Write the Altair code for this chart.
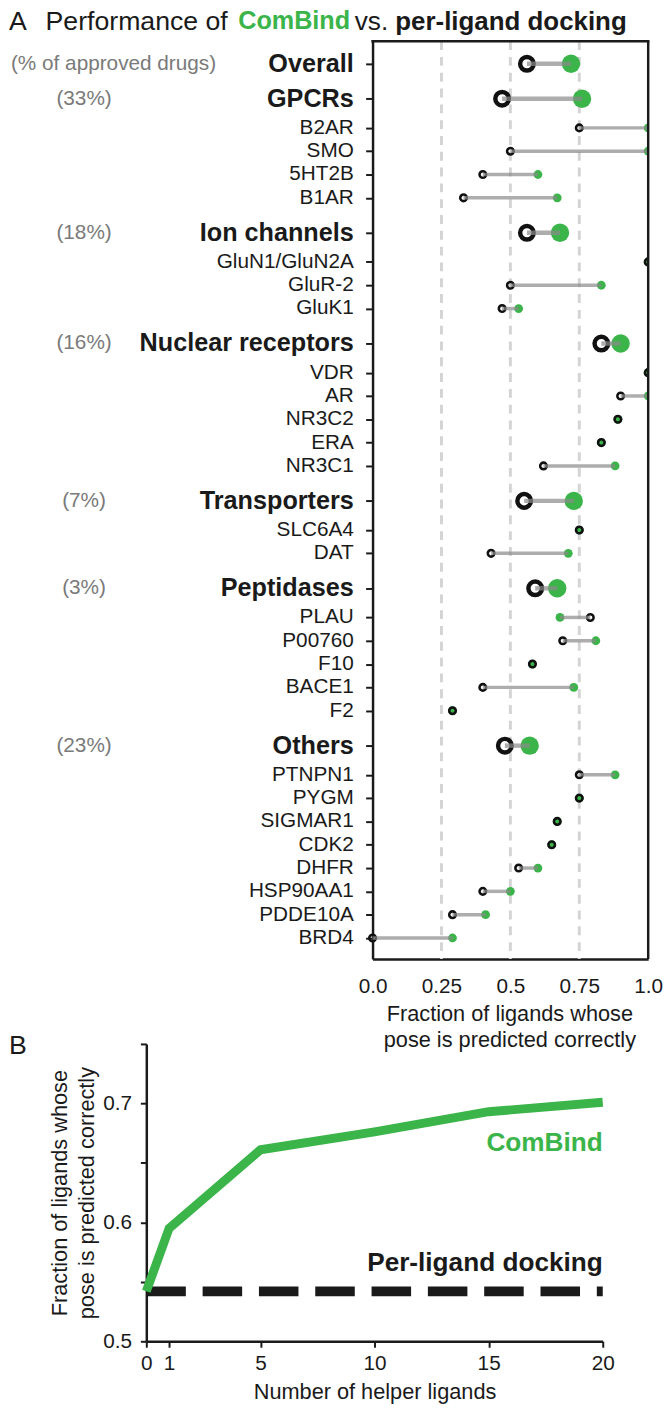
import altair as alt
import pandas as pd

FONT = "Liberation Sans"
GREEN = "#3bb44a"
BLACK = "#1a1a1a"
GRAYTXT = "#7a7a7a"

# ---------------- Panel A data ----------------
groups = ["Overall", "GPCRs", "Ion channels", "Nuclear receptors", "Transporters", "Peptidases", "Others"]
group_share = ["(% of approved drugs)", "(33%)", "(18%)", "(16%)", "(7%)", "(3%)", "(23%)"]
group_dock = [0.56, 0.47, 0.56, 0.83, 0.55, 0.59, 0.48]
group_combind = [0.72, 0.76, 0.68, 0.90, 0.73, 0.67, 0.57]

targets = ["B2AR", "SMO", "5HT2B", "B1AR",
           "GluN1/GluN2A", "GluR-2", "GluK1",
           "VDR", "AR", "NR3C2", "ERA", "NR3C1",
           "SLC6A4", "DAT",
           "PLAU", "P00760", "F10", "BACE1", "F2",
           "PTNPN1", "PYGM", "SIGMAR1", "CDK2", "DHFR", "HSP90AA1", "PDDE10A", "BRD4"]
target_group = ["GPCRs"] * 4 + ["Ion channels"] * 3 + ["Nuclear receptors"] * 5 + \
               ["Transporters"] * 2 + ["Peptidases"] * 5 + ["Others"] * 8
target_dock = [0.75, 0.50, 0.40, 0.33,
               1.00, 0.50, 0.47,
               1.00, 0.90, 0.89, 0.83, 0.62,
               0.75, 0.43,
               0.79, 0.69, 0.58, 0.40, 0.29,
               0.75, 0.75, 0.67, 0.65, 0.53, 0.40, 0.29, 0.00]
target_combind = [1.00, 1.00, 0.60, 0.67,
                  1.00, 0.83, 0.53,
                  1.00, 1.00, 0.89, 0.83, 0.88,
                  0.75, 0.71,
                  0.68, 0.81, 0.58, 0.73, 0.29,
                  0.88, 0.75, 0.67, 0.65, 0.60, 0.50, 0.41, 0.29]

grid_vals = [0.25, 0.5, 0.75]
x_ticks_a = [0, 0.25, 0.5, 0.75, 1]
x_title_a = ["Fraction of ligands whose", "pose is predicted correctly"]

# ---------------- Panel B data ----------------
helpers = [0, 1, 5, 10, 15, 20]
combind_curve = [0.542, 0.595, 0.661, 0.676, 0.693, 0.701]
docking_baseline = 0.542
y_ticks_b = [0.5, 0.55, 0.6, 0.65, 0.7, 0.75]

# build row table (row order with extra gap before each group heading)
rows = []
pos = 0.0
for gi, g in enumerate(groups):
    if gi > 0:
        pos += 1.5
    rows.append(dict(name=g, share=group_share[gi], dock=group_dock[gi],
                     combind=group_combind[gi], head=True, first=(gi == 0), pos=pos))
    first = True
    for t, tg, d, c in zip(targets, target_group, target_dock, target_combind):
        if tg != g:
            continue
        pos += 1.25 if first else 1.0
        first = False
        rows.append(dict(name=t, share="", dock=d, combind=c, head=False, first=False, pos=pos))
df = pd.DataFrame(rows)

# ---------------- Panel A ----------------
W_A, H_A = 647, 929
PLOT_A0 = 368  # left edge of the dot-plot box inside the panel
Y_DOM = [-0.97, 38.4]
xs_a = alt.Scale(domain=[0, 1], range=[PLOT_A0, W_A], zero=False, nice=False)
ys_a = alt.Scale(domain=Y_DOM, reverse=True, zero=False, nice=False)

xaxis_a = alt.Axis(values=x_ticks_a,
                   labelExpr="datum.value == 0 ? '0.0' : datum.value == 1 ? '1.0' : format(datum.value, '.2~f')",
                   ticks=False, grid=False, domainColor=BLACK, domainWidth=2.5,
                   labelFontSize=21, labelPadding=17, labelFlush=False, labelColor=BLACK,
                   title=None)
yaxis_a = alt.Axis(values=list(df["pos"]), labels=False, ticks=True, tickSize=7, tickWidth=2,
                   tickColor=BLACK, domainColor=BLACK, domainWidth=2.5, grid=False, title=None,
                   offset=-PLOT_A0)


def X(f):
    return alt.X(f, type="quantitative", scale=xs_a, axis=xaxis_a)


def Y(f="pos"):
    return alt.Y(f, type="quantitative", scale=ys_a, axis=yaxis_a)


gridA = alt.Chart(pd.DataFrame({"g": grid_vals})).mark_rule(
    strokeDash=[9, 7], color="#d4d4d4", strokeWidth=3).encode(x=X("g"))

frame_right = alt.Chart(pd.DataFrame({"v": [1]})).mark_rule(
    color=BLACK, strokeWidth=2.5).encode(x=X("v"))
frame_top = alt.Chart(pd.DataFrame({"a": [0], "b": [1], "y": [Y_DOM[0]]})).mark_rule(
    color=BLACK, strokeWidth=2.5, strokeCap="square").encode(x=X("a"), x2="b:Q", y=Y("y"))

green = alt.Chart(df).mark_circle(color=GREEN, opacity=1, clip=True).encode(
    x=X("combind"), y=Y(),
    size=alt.condition("datum.head", alt.value(346), alt.value(79)))

rings = alt.Chart(df).mark_point(shape="circle", filled=False, color="#111111", opacity=1, clip=True).encode(
    x=X("dock"), y=Y(),
    size=alt.condition("datum.head", alt.value(189), alt.value(44)),
    strokeWidth=alt.condition("datum.head", alt.value(4.5), alt.value(2.6)))

links = alt.Chart(df).mark_rule(color="#8a8a8a", opacity=0.7).encode(
    x=X("dock"), x2="combind:Q", y=Y(),
    strokeWidth=alt.condition("datum.head", alt.value(4.5), alt.value(3.5)))

LABEL_X = PLOT_A0 - 19
sub_labels = alt.Chart(df).transform_filter("!datum.head").mark_text(
    align="right", baseline="middle", font=FONT, fontSize=21, color=BLACK).encode(
    x=alt.value(LABEL_X), y=Y(), text="name:N")

head_labels = alt.Chart(df).transform_filter("datum.head").mark_text(
    align="right", baseline="middle", font=FONT, fontSize=25.5, fontWeight="bold", color=BLACK).encode(
    x=alt.value(LABEL_X), y=Y(), text="name:N")

share_labels = alt.Chart(df).transform_filter("datum.head && !datum.first").mark_text(
    align="center", baseline="middle", font=FONT, fontSize=21, color=GRAYTXT).encode(
    x=alt.value(76), y=Y(), text="share:N")

share_first = alt.Chart(df).transform_filter("datum.first").mark_text(
    align="left", baseline="middle", font=FONT, fontSize=21, color=GRAYTXT).encode(
    x=alt.value(2), y=Y(), text="share:N")


def title_piece(txt, x, color=BLACK, weight="normal", size=27):
    return alt.Chart(pd.DataFrame({"t": [txt]})).mark_text(
        align="left", baseline="top", font=FONT, fontSize=size,
        fontWeight=weight, color=color).encode(
        x=alt.value(x), y=alt.value(-32), text="t:N")


titleA = [
    title_piece("A", 0),
    title_piece("Performance of", 37),
    title_piece("ComBind", 232, color=GREEN, weight="bold", size=25.5),
    title_piece("vs.", 350, size=26.5),
    title_piece("per-ligand docking", 391, weight="bold", size=26.2),
]

panelA = alt.layer(gridA, green, rings, links, frame_right, frame_top,
                   sub_labels, head_labels, share_labels, share_first, *titleA).properties(
    width=W_A, height=H_A)

# ---------------- Panel B ----------------
W_B, H_B = 601, 301
PLOT_B0 = 139
xs_b = alt.Scale(domain=[0, 20], range=[PLOT_B0, W_B], zero=False, nice=False)
ys_b = alt.Scale(domain=[0.5, 0.75], zero=False, nice=False)
xaxis_b = alt.Axis(values=helpers, format="d", tickSize=6, tickWidth=2, tickColor=BLACK,
                   domainColor=BLACK, domainWidth=2.5, grid=False,
                   labelFontSize=21, labelPadding=6, labelFlush=False, labelColor=BLACK,
                   title="Number of helper ligands", titleFontSize=22,
                   titleFontWeight="normal", titleColor=BLACK, titlePadding=8)
yaxis_b = alt.Axis(values=y_ticks_b,
                   labelExpr="abs(datum.value*10 - round(datum.value*10)) < 0.001 ? format(datum.value, '.1f') : ''",
                   tickSize=6, tickWidth=2, tickColor=BLACK, domainColor=BLACK, domainWidth=2.5,
                   grid=False, labelFontSize=21, labelPadding=9, labelColor=BLACK,
                   title=["Fraction of ligands whose", "pose is predicted correctly"],
                   titleFontSize=22, titleFontWeight="normal", titleColor=BLACK,
                   titlePadding=4, titleLineHeight=28, offset=-PLOT_B0)

df_curve = pd.DataFrame({"n": helpers, "frac": combind_curve})
df_base = pd.DataFrame({"x0": [min(helpers)], "x1": [max(helpers)], "y": [docking_baseline]})

base_rule = alt.Chart(df_base).mark_rule(strokeDash=[40, 17], strokeWidth=10, color=BLACK).encode(
    x=alt.X("x0:Q", scale=xs_b, axis=xaxis_b), x2="x1:Q",
    y=alt.Y("y:Q", scale=ys_b, axis=yaxis_b))

curve = alt.Chart(df_curve).mark_line(color=GREEN, strokeWidth=9).encode(
    x=alt.X("n:Q", scale=xs_b, axis=xaxis_b),
    y=alt.Y("frac:Q", scale=ys_b, axis=yaxis_b))


def note(txt, x, y, color=BLACK, weight="bold", size=26.5, align="right"):
    return alt.Chart(pd.DataFrame({"t": [txt]})).mark_text(
        align=align, baseline="middle", font=FONT, fontSize=size,
        fontWeight=weight, color=color).encode(
        x=alt.value(x), y=alt.value(y), text="t:N")


notesB = [
    note("ComBind", W_B, 100, color=GREEN),
    note("Per-ligand docking", W_B, 222),
    # x-axis title of panel A (sits in the gap between the panels)
    note(x_title_a[0], 507, -30, weight="normal", size=22, align="center"),
    note(x_title_a[1], 507, -4, weight="normal", size=22, align="center"),
    alt.Chart(pd.DataFrame({"t": ["B"]})).mark_text(
        align="left", baseline="alphabetic", font=FONT, fontSize=27, color=BLACK).encode(
        x=alt.value(0), y=alt.value(10), text="t:N"),
]

panelB = alt.layer(base_rule, curve, *notesB).properties(width=W_B, height=H_B)

chart = alt.vconcat(panelA, panelB, spacing=5).properties(
    padding={"left": 0, "top": -9, "right": 0, "bottom": 0}
).configure_axis(labelFont=FONT, titleFont=FONT).configure_view(stroke="transparent")

chart.save("out.html", embed_options={"renderer": "svg", "actions": False})
